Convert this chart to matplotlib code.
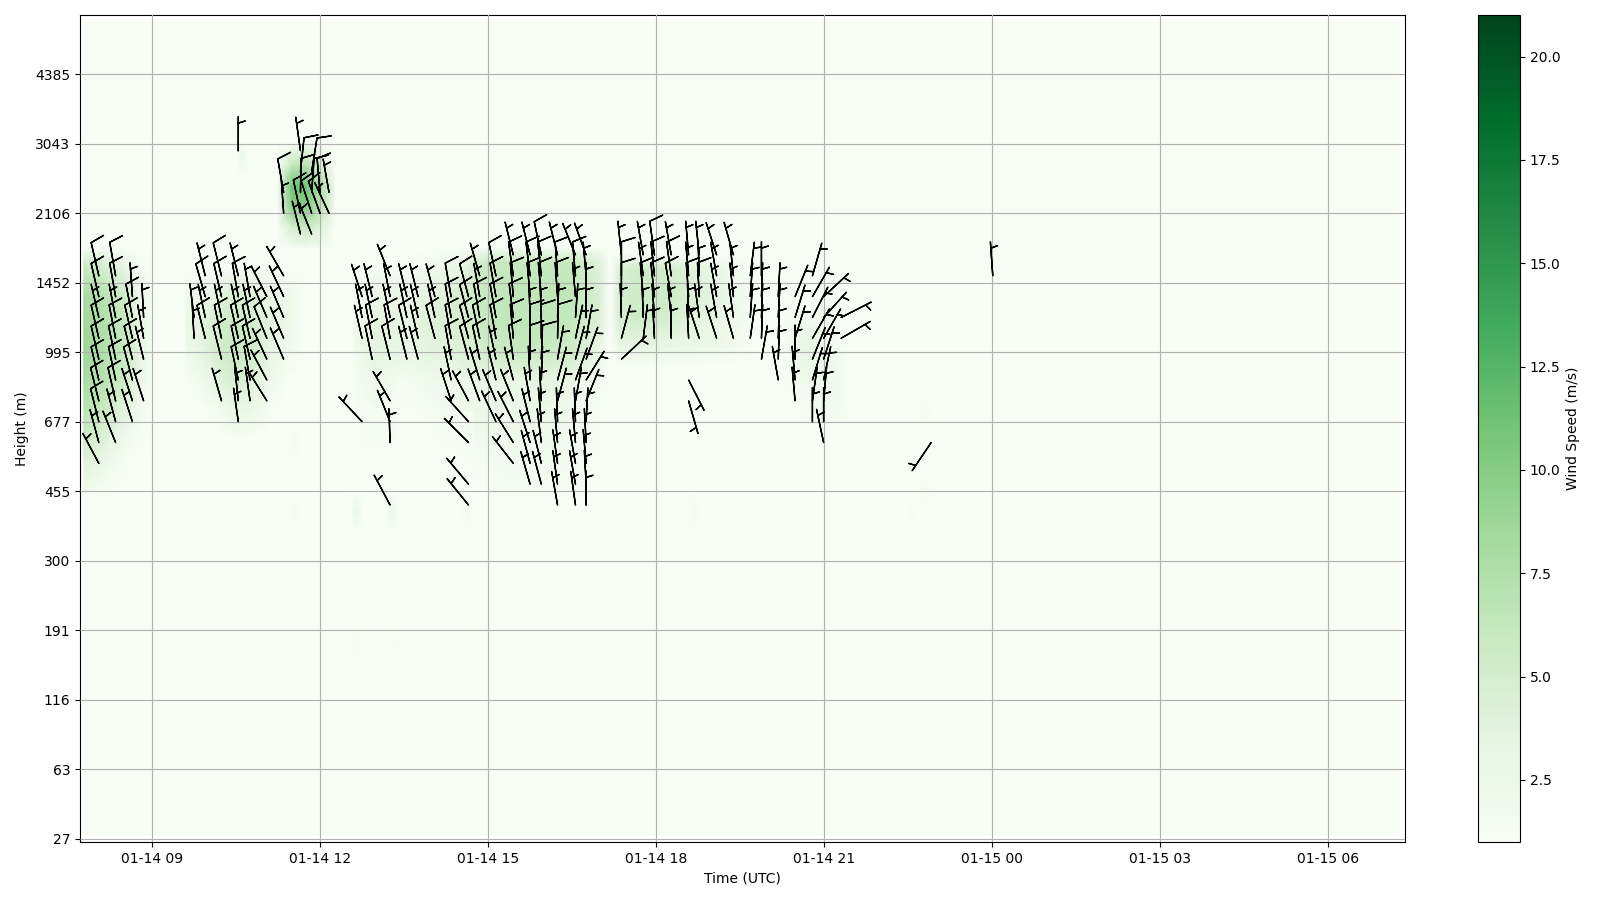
#!/usr/bin/env python3
from datetime import datetime

import matplotlib

matplotlib.use("Agg")
import matplotlib.dates as mdates
import matplotlib.pyplot as plt
import numpy as np

height_labels = [27, 63, 116, 191, 300, 455, 677, 995, 1452, 2106, 3043, 4385]
height_ticks = [0, 10, 20, 30, 40, 50, 60, 70, 80, 90, 100, 110]
cbar_ticks = [2.5, 5.0, 7.5, 10.0, 12.5, 15.0, 17.5, 20.0]

# extent of the radar data, hours after 01-14 00 and level index
data_hours = [7.78, 31.26]
data_levels = [0.5, 117.6]
data_speed = [[1, 1], [1, 1]]

# patches of wind speed (m/s), rows are levels and columns are hours
blob_a_hours = [7.78, 8.0, 8.25, 8.5, 8.75, 9.0]
blob_a_levels = [50, 54, 58, 62, 66, 70, 74, 78, 83, 85]
blob_a_speed = [
    [1.8, 1.4, 1, 1, 1, 1],
    [3.8, 3.2, 2, 1.2, 1, 1],
    [5.5, 5, 3.8, 2.2, 1.2, 1],
    [7, 6.5, 5.2, 3.8, 2.2, 1],
    [8, 7.5, 6.5, 5.5, 3.2, 1.2],
    [8.5, 8, 7, 6, 3.8, 1.2],
    [8.5, 8, 7, 6, 3.8, 1.2],
    [8, 7.5, 6.5, 5.5, 3, 1.1],
    [5, 5, 3.8, 2.8, 1.2, 1],
    [1, 1, 1, 1, 1, 1],
]

blob_b_hours = [9.6, 9.9, 10.2, 10.5, 10.8, 11.1, 11.4, 11.7]
blob_b_levels = [58, 62, 66, 70, 74, 78, 82]
blob_b_speed = [
    [1, 1, 1, 1.5, 1.2, 1, 1, 1],
    [1, 1, 1.5, 3, 2.5, 1.2, 1, 1],
    [1, 1.8, 3.8, 5, 4.2, 2.2, 1, 1],
    [1.8, 3.2, 5, 5.8, 5.2, 3.2, 1.8, 1],
    [2.5, 3.8, 5.2, 5.8, 5.2, 3.8, 2.5, 1],
    [1.8, 2.5, 3.8, 4.8, 4.2, 3, 2.5, 1],
    [1, 1, 1, 1.5, 1.5, 1.2, 1, 1],
]

blob_c_hours = [11.25, 11.5, 11.75, 12.0, 12.25]
blob_c_levels = [85, 88, 91, 94, 97, 100]
blob_c_speed = [
    [1, 1, 1.5, 1.5, 1],
    [1, 5, 6, 4, 1],
    [1.5, 10, 10, 7, 2],
    [2, 11, 11, 8, 2.5],
    [1, 6, 7, 4.5, 1.2],
    [1, 1, 1.5, 1, 1],
]

blob_d_hours = [12.6, 13, 13.5, 14, 14.5, 15, 15.5, 16, 16.5, 17, 17.15]
blob_d_levels = [50, 54, 58, 62, 66, 70, 74, 78, 83, 85]
blob_d_speed = [
    [1, 1, 1, 1, 1, 1, 1.3, 1.3, 1.3, 1, 1],
    [1, 1, 1, 1, 1, 1.5, 1.8, 1.8, 1.5, 1, 1],
    [1, 1.5, 1, 1.2, 1.5, 2, 2.2, 2, 1.5, 1.2, 1],
    [1, 1.5, 1, 1.5, 2, 2.5, 2.8, 2.5, 2, 1.2, 1],
    [1, 2.5, 1.2, 2, 2.5, 3, 3, 3.5, 3, 1.5, 1],
    [1.5, 3.5, 2.8, 3.5, 4.2, 5.2, 5.8, 5.8, 5.2, 2.5, 1],
    [2.2, 3.8, 3.2, 4.2, 4.8, 6, 6.5, 6.5, 6, 4, 1.2],
    [1.5, 2.8, 2.8, 3.8, 4.8, 6.2, 6.5, 6.5, 6.5, 4.5, 1.2],
    [1, 1, 1, 1.5, 2.5, 5.8, 6, 6, 6, 4, 1],
    [1, 1, 1, 1, 1, 1.2, 1.5, 1.5, 1.5, 1, 1],
]

blob_e_hours = [17.2, 17.35, 17.75, 18.25, 18.75, 19.25, 19.75]
blob_e_levels = [68, 71, 75, 78, 82, 84]
blob_e_speed = [
    [1, 1, 1.2, 1, 1, 1, 1],
    [1, 3, 3.5, 3, 2.5, 2, 1],
    [1, 5, 5.5, 4.8, 3.8, 2.5, 1],
    [1, 5, 5.5, 5.5, 4.2, 2.8, 1],
    [1, 4.5, 5.5, 5, 3.8, 2, 1],
    [1, 1.2, 1.5, 1.5, 1.2, 1, 1],
]

blob_f_hours = [20.3, 20.6, 20.9, 21.2, 21.45]
blob_f_levels = [60, 64, 68, 72, 76]
blob_f_speed = [
    [1, 1, 1.5, 1.5, 1],
    [1, 1.3, 2, 2, 1],
    [1, 2.5, 3, 2, 1],
    [1.5, 3, 3, 1.5, 1],
    [1, 1.5, 1.5, 1, 1],
]

# isolated faint gates
spot_hours = [11.54, 11.54, 12.65, 13.29, 13.29, 14.63, 14.63, 12.65, 13.33, 14.63, 18.68, 22.81, 22.81, 22.56, 24.04, 10.61]
spot_levels = [57, 47, 47, 47, 59, 59, 47, 28, 28, 29, 47, 61, 50, 47, 82, 98]
spot_speeds = [1.6, 1.5, 3, 3, 2, 2, 1.8, 1.5, 1.3, 1.2, 1.8, 1.6, 1.5, 1.3, 1.6, 2.5]

# wind barbs, one entry per profile: levels, speed (m/s), direction (deg)
barb_hours = [
    8.05, 8.35, 8.65, 8.85, 9.75, 9.95, 10.24, 10.54, 10.75, 11.05, 11.35, 11.65, 11.85, 12.0, 12.16,
    12.75, 12.93, 13.25, 13.55, 13.75, 14.05, 14.34, 14.65, 14.85, 15.14, 15.45, 15.75, 15.95,
    16.24, 16.56, 16.75, 17.38, 17.77, 17.97, 18.27, 18.58, 18.77, 19.08, 19.38, 19.68, 19.88,
    20.18, 20.48, 20.79, 20.99, 21.3, 22.91, 24.01,
]
barb_levels = [
    [54, 57, 60, 63, 66, 69, 72, 75, 78, 81],
    [57, 60, 63, 66, 69, 72, 75, 78, 81],
    [60, 63, 66, 69, 72, 75, 78],
    [63, 69, 72, 75],
    [72, 75],
    [72, 75, 78, 81],
    [63, 69, 72, 75, 78, 81],
    [60, 63, 66, 69, 72, 75, 78, 81, 99],
    [63, 66, 69, 72, 75, 78],
    [63, 66, 69, 72, 75, 78],
    [69, 72, 75, 78, 81, 90, 93],
    [87, 90, 93, 96, 99],
    [87, 90, 93, 96],
    [90, 93],
    [90, 93],
    [60, 72, 75, 78],
    [69, 72, 75, 78],
    [48, 57, 60, 63, 69, 72, 75, 78, 81],
    [69, 72, 75, 78],
    [69, 72, 75, 78],
    [72, 75, 78],
    [63, 66, 69, 72, 75, 78],
    [48, 51, 57, 60, 63, 69, 72, 75, 78],
    [63, 66, 69, 72, 75, 78, 81],
    [60, 63, 66, 69, 72, 75, 78, 81],
    [54, 57, 60, 63, 66, 69, 72, 75, 78, 81, 84],
    [51, 54, 57, 60, 63, 66, 69, 72, 75, 78, 81, 84],
    [51, 54, 57, 60, 63, 66, 69, 72, 75, 78, 81, 84],
    [48, 51, 54, 57, 60, 63, 66, 69, 72, 75, 78, 81, 84],
    [48, 51, 54, 57, 60, 63, 66, 69, 72, 75, 78, 81, 84],
    [48, 51, 54, 57, 60, 63, 66, 69, 72, 75, 78, 81, 84],
    [69, 72, 75, 78, 81, 84],
    [72, 75, 78, 81, 84],
    [72, 75, 78, 81, 84],
    [72, 75, 78, 81, 84],
    [63, 66, 72, 75, 78, 81, 84],
    [72, 75, 78, 81, 84],
    [72, 75, 78, 81, 84],
    [72, 75, 78, 81, 84],
    [72, 75, 78, 81],
    [69, 72, 75, 78, 81],
    [66, 69, 72, 75, 78],
    [63, 66, 69, 72, 75, 78],
    [60, 63, 66, 69, 72, 75, 78, 81],
    [57, 60, 63, 66, 69, 72, 75, 78],
    [72, 75],
    [57],
    [81],
]
barb_speeds = [
    [5, 5, 10, 10, 10, 10, 10, 5, 10, 10],
    [5, 5, 10, 10, 10, 10, 5, 10, 10],
    [5, 5, 10, 10, 10, 10, 5],
    [5, 5, 5, 5],
    [5, 5],
    [10, 5, 10, 5],
    [5, 10, 10, 5, 10, 10],
    [5, 5, 10, 10, 10, 5, 10, 5, 5],
    [5, 10, 10, 10, 5, 5],
    [5, 5, 5, 10, 5, 5],
    [5, 5, 5, 5, 5, 5, 10],
    [5, 10, 10, 10, 5],
    [5, 10, 10, 10],
    [10, 10],
    [5, 5],
    [5, 5, 5, 5],
    [10, 10, 5, 5],
    [5, 5, 5, 5, 10, 10, 5, 5, 5],
    [5, 10, 5, 5],
    [5, 5, 5, 5],
    [10, 5, 5],
    [5, 5, 10, 10, 10, 10],
    [5, 5, 5, 5, 5, 10, 10, 10, 10],
    [5, 5, 10, 10, 10, 5, 5],
    [5, 5, 5, 5, 10, 10, 10, 10],
    [5, 5, 5, 5, 5, 10, 10, 10, 10, 10, 5],
    [5, 5, 5, 5, 5, 5, 10, 10, 5, 10, 10, 5],
    [5, 5, 5, 5, 5, 5, 10, 10, 5, 10, 10, 10],
    [5, 5, 5, 5, 5, 5, 5, 5, 10, 5, 10, 10, 5],
    [5, 5, 5, 5, 5, 5, 5, 5, 5, 5, 5, 10, 5],
    [5, 5, 5, 5, 5, 5, 5, 5, 5, 5, 5, 5, 5],
    [5, 5, 5, 10, 10, 5],
    [5, 5, 10, 5, 5],
    [5, 5, 10, 10, 10],
    [5, 5, 10, 10, 5],
    [5, 5, 5, 5, 10, 5, 5],
    [5, 5, 10, 5, 5],
    [5, 5, 5, 5, 5],
    [5, 5, 5, 5, 5],
    [5, 5, 5, 5],
    [5, 5, 5, 5, 5],
    [5, 5, 5, 5, 5],
    [5, 5, 5, 5, 5, 5],
    [5, 5, 5, 5, 5, 5, 5, 5],
    [5, 5, 5, 5, 5, 5, 5, 5],
    [5, 5],
    [5],
    [5],
]
barb_dirs = [
    [332, 345, 346, 346, 347, 347, 347, 347, 347, 347],
    [338, 345, 347, 348, 348, 349, 349, 350, 350],
    [342, 342, 345, 346, 347, 349, 356],
    [342, 346, 350, 357],
    [357, 353],
    [346, 348, 344, 346],
    [344, 346, 348, 348, 347, 346],
    [352, 354, 348, 348, 347, 348, 350, 346, 0],
    [352, 350, 347, 347, 348, 350],
    [328, 332, 335, 338, 337, 333],
    [337, 337, 337, 335, 330, 356, 350],
    [346, 348, 1, 6, 352],
    [338, 342, 4, 9],
    [340, 355],
    [335, 350],
    [317, 347, 349, 342],
    [348, 349, 348, 346],
    [332, 358, 338, 330, 346, 350, 348, 349, 338],
    [346, 346, 348, 346],
    [345, 347, 347, 346],
    [345, 348, 345],
    [342, 348, 350, 350, 350, 350],
    [321, 320, 315, 318, 332, 345, 345, 345, 345],
    [340, 343, 348, 348, 350, 350, 344],
    [335, 337, 346, 348, 350, 350, 350, 348],
    [322, 328, 333, 338, 345, 352, 355, 353, 355, 352, 346],
    [344, 345, 342, 346, 350, 357, 0, 0, 358, 355, 353, 346],
    [345, 346, 353, 355, 357, 2, 2, 0, 358, 355, 354, 348],
    [350, 352, 352, 355, 358, 15, 15, 10, 1, 2, 356, 356, 346],
    [352, 350, 350, 355, 358, 10, 20, 15, 12, 4, 355, 355, 338],
    [0, 357, 355, 357, 3, 22, 32, 20, 10, 0, 0, 355, 340],
    [47, 15, 358, 0, 0, 354],
    [7, 358, 355, 352, 350],
    [357, 356, 354, 354, 352],
    [359, 354, 350, 352, 350],
    [164, 153, 357, 358, 356, 355, 355],
    [342, 352, 357, 358, 354],
    [342, 350, 350, 350, 342],
    [344, 352, 354, 354, 344],
    [8, 4, 4, 7],
    [10, 2, 2, 2, 0],
    [350, 2, 2, 3, 3],
    [355, 355, 0, 17, 17, 22],
    [0, 8, 17, 22, 30, 27, 30, 16],
    [348, 0, 5, 12, 18, 30, 42, 47],
    [60, 63],
    [214],
    [356],
]

base_num = mdates.date2num(datetime(2025, 1, 14))


def to_num(hours):
    return base_num + np.asarray(hours, dtype=float) / 24.0


def draw_patch(ax, hours, levels, speed):
    return ax.pcolormesh(to_num(hours), levels, np.array(speed), shading="gouraud",
                         cmap="Greens", vmin=1, vmax=21, zorder=1)


fig = plt.figure(figsize=(16, 9), dpi=100)
ax = fig.add_axes([80.0 / 1600, 1 - 842 / 900, (1405.3 - 80.0) / 1600, (842 - 15.3) / 900])
cax = fig.add_axes([1477.8 / 1600, 1 - 842 / 900, (1520 - 1477.8) / 1600, (842 - 15.3) / 900])

mesh = draw_patch(ax, data_hours, data_levels, data_speed)
draw_patch(ax, blob_a_hours, blob_a_levels, blob_a_speed)
draw_patch(ax, blob_b_hours, blob_b_levels, blob_b_speed)
draw_patch(ax, blob_c_hours, blob_c_levels, blob_c_speed)
draw_patch(ax, blob_d_hours, blob_d_levels, blob_d_speed)
draw_patch(ax, blob_e_hours, blob_e_levels, blob_e_speed)
draw_patch(ax, blob_f_hours, blob_f_levels, blob_f_speed)

for h, l, s in zip(spot_hours, spot_levels, spot_speeds):
    draw_patch(ax, [h - 0.1, h, h + 0.1], [l - 2.5, l, l + 2.5], [[1, 1, 1], [1, s, 1], [1, 1, 1]])

bx, by, bs, bd = [], [], [], []
for h, lv, sp, di in zip(barb_hours, barb_levels, barb_speeds, barb_dirs):
    for l, s, d in zip(lv, sp, di):
        bx.append(h)
        by.append(l)
        bs.append(s)
        bd.append(d)
bs = np.array(bs, dtype=float)
rad = np.deg2rad(bd)
ax.barbs(to_num(bx), by, -bs * np.sin(rad), -bs * np.cos(rad), length=7, zorder=3, color="black")

ax.set_xlim(to_num(7.714), to_num(31.375))
ax.set_ylim(-0.5, 118.5)
ax.xaxis_date()
ax.xaxis.set_major_locator(mdates.HourLocator(byhour=range(0, 24, 3)))
ax.xaxis.set_major_formatter(mdates.DateFormatter("%m-%d %H"))
ax.set_yticks(height_ticks)
ax.set_yticklabels(height_labels)
ax.grid(True, zorder=2)
ax.set_axisbelow(False)
ax.set_xlabel("Time (UTC)")
ax.set_ylabel("Height (m)")

cbar = fig.colorbar(mesh, cax=cax, label="Wind Speed (m/s)")
cbar.set_ticks(cbar_ticks)

fig.savefig("out.png", dpi=100)
